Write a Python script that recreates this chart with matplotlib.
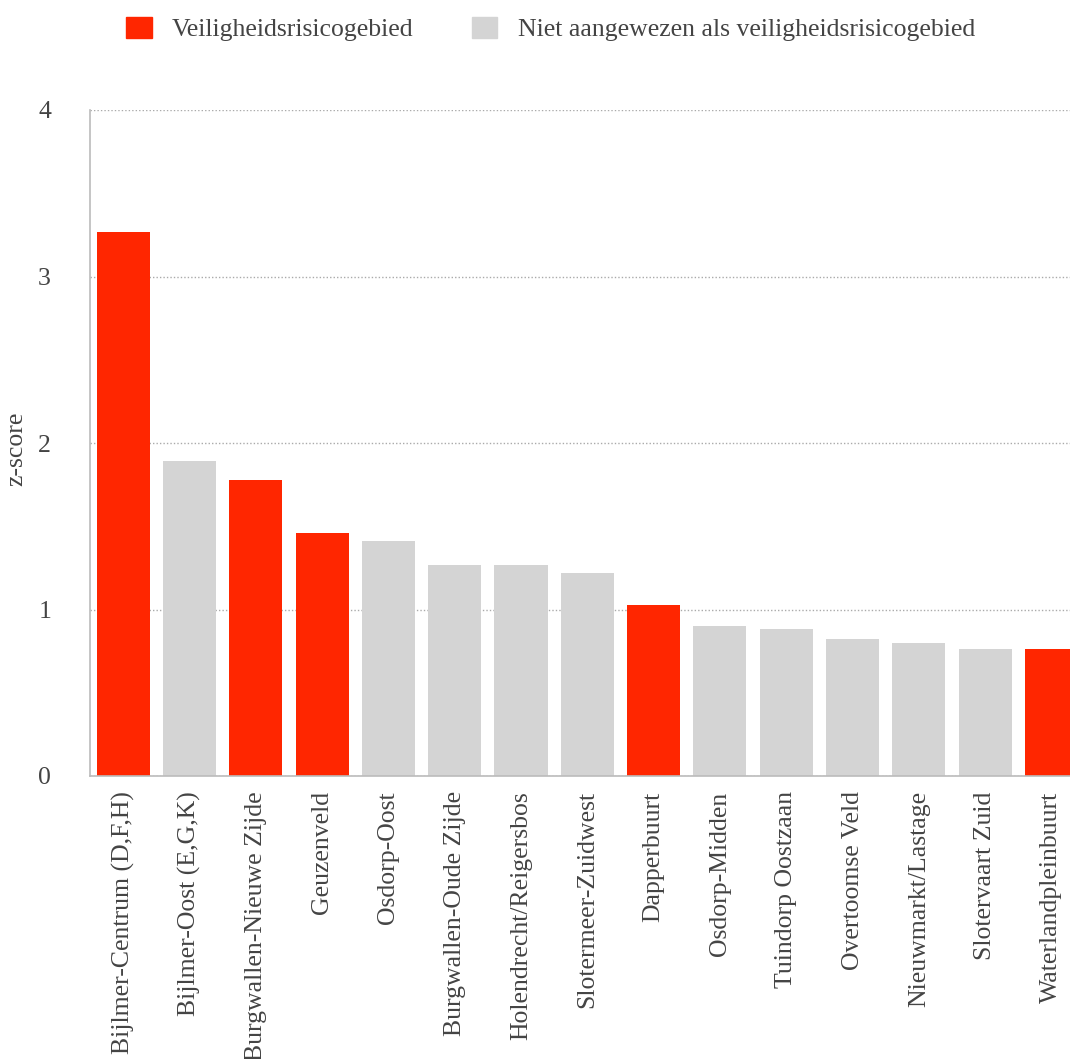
import matplotlib
matplotlib.use("Agg")
import matplotlib.pyplot as plt
from matplotlib.patches import Patch

plt.rcParams['font.family'] = ['Liberation Serif', 'DejaVu Serif']

buurten = [
    "Bijlmer-Centrum (D,F,H)", "Bijlmer-Oost (E,G,K)", "Burgwallen-Nieuwe Zijde",
    "Geuzenveld", "Osdorp-Oost", "Burgwallen-Oude Zijde", "Holendrecht/Reigersbos",
    "Slotermeer-Zuidwest", "Dapperbuurt", "Osdorp-Midden", "Tuindorp Oostzaan",
    "Overtoomse Veld", "Nieuwmarkt/Lastage", "Slotervaart Zuid", "Waterlandpleinbuurt",
]
z_scores = [3.27, 1.89, 1.78, 1.46, 1.41, 1.27, 1.27, 1.22, 1.03, 0.90, 0.88, 0.82, 0.80, 0.76, 0.76]
risicogebied = [True, False, True, True, False, False, False, False, True,
                False, False, False, False, False, True]

RED = "#FF2600"
GREY = "#D4D4D4"
TXT = "#444444"

colors = [RED if r else GREY for r in risicogebied]

fig = plt.figure(figsize=(10.70, 10.59), dpi=100)
ax = fig.add_axes([90 / 1070, 1 - 776 / 1059, 1 - 90 / 1070, (776 - 110) / 1059])

x = list(range(len(buurten)))
ax.bar(x, z_scores, width=0.8, color=colors, zorder=2)

ax.set_xlim(-0.5, 14.28)
ax.set_ylim(0, 4)
ax.set_yticks([0, 1, 2, 3, 4])
ax.yaxis.grid(True, linestyle=(0, (1, 1.5)), color="#AAAAAA", linewidth=1, zorder=0)
ax.set_axisbelow(True)

ax.set_xticks(x)
ax.set_xticklabels(buurten, rotation=90, ha="center", va="top")
ax.tick_params(axis="x", length=0, pad=11, labelsize=18.5, labelcolor=TXT)
ax.tick_params(axis="y", length=0, pad=28, labelsize=18.5, labelcolor=TXT)

for s in ["top", "right"]:
    ax.spines[s].set_visible(False)
for s in ["left", "bottom"]:
    ax.spines[s].set_color("#BBBBBB")
    ax.spines[s].set_linewidth(1.2)

ax.set_ylabel("z-score", fontsize=18.5, color=TXT)
ax.yaxis.set_label_coords(-0.064, 0.492)

handles = [Patch(color=RED, label="Veiligheidsrisicogebied"),
           Patch(color=GREY, label="Niet aangewezen als veiligheidsrisicogebied")]
fig.legend(handles=handles, loc="upper center", bbox_to_anchor=(0.5145, 1.006), ncol=2,
           frameon=False, fontsize=18.5, handlelength=1.0, handleheight=0.9,
           columnspacing=2.25, handletextpad=0.8, labelcolor=TXT)

fig.savefig("out.png", dpi=100)
